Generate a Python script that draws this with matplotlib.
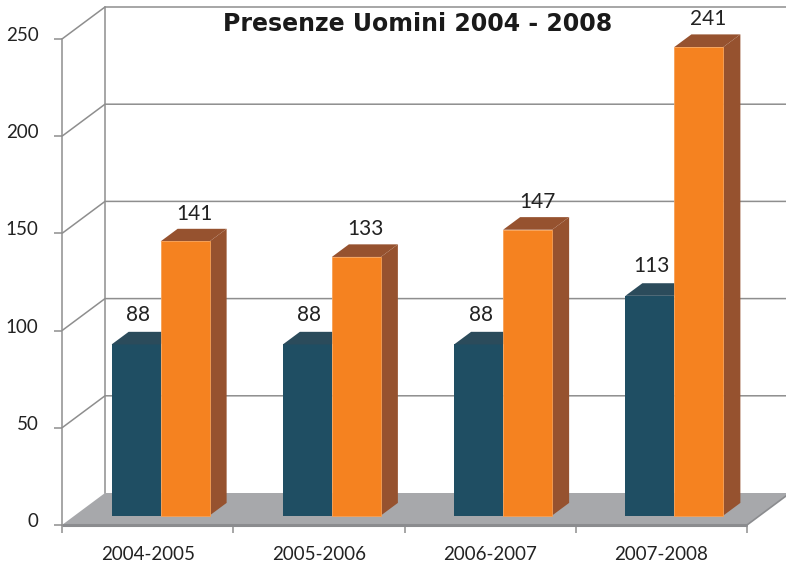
import matplotlib
matplotlib.use("Agg")
import matplotlib.pyplot as plt
from matplotlib.patches import Polygon
from matplotlib.transforms import ScaledTranslation

categories = ["2004-2005", "2005-2006", "2006-2007", "2007-2008"]
series_a = [88, 88, 88, 113]      # dark blue
series_b = [141, 133, 147, 241]   # orange
yticks = [0, 50, 100, 150, 200, 250]
title = "Presenze Uomini 2004 - 2008"

C_DARK = "#1f4e63"
C_DARK_TOP = "#2b4b5b"
C_ORANGE = "#f58220"
C_BROWN = "#96522f"
C_FLOOR = "#a7a8ab"
C_FLOOR_EDGE = "#8b8c8f"
C_GRID = "#8e8e8e"

FONT = ["Lato", "DejaVu Sans"]
plt.rcParams["font.family"] = FONT

W, H, DPI = 786, 563, 100
fig = plt.figure(figsize=(W / DPI, H / DPI), dpi=DPI)
x0, y0, x1, y1 = 62, 525, 747, 39
ax = fig.add_axes([x0 / W, (H - y0) / H, (x1 - x0) / W, (y0 - y1) / H])
ax.set_xlim(0, 4)
ax.set_ylim(0, 250)
ax.set_facecolor("none")

pxx = (x1 - x0) / 4.0
pxy = (y0 - y1) / 250.0
DX, DY = 43 / pxx, 32 / pxy          # wall depth
BX, BY = 13 / pxx, 9.5 / pxy          # bar front offset
BDX, BDY = 17 / pxx, 12.6 / pxy       # bar depth
BW = 49 / pxx                          # bar width

# back wall gridlines and edges
for t in yticks:
    if t == 0:
        continue
    ax.plot([0, DX, 4 + DX + 1], [t, t + DY, t + DY], color=C_GRID, lw=1.1,
            clip_on=False, zorder=1, solid_capstyle="butt")
ax.plot([DX, DX], [DY, 250 + DY], color=C_GRID, lw=1.1, clip_on=False, zorder=1)

# floor
floor = Polygon([(0, 0), (4, 0), (4 + DX, DY), (DX, DY)], closed=True,
                facecolor=C_FLOOR, edgecolor="none", clip_on=False, zorder=2)
ax.add_patch(floor)
ax.plot([0, 4], [0, 0], color=C_FLOOR_EDGE, lw=2.2, clip_on=False, zorder=3,
        solid_capstyle="butt")
ax.plot([4, 4 + DX], [0, DY], color=C_FLOOR_EDGE, lw=1.2, clip_on=False, zorder=3)

# bars
xs = [i + 0.5 for i in range(len(categories))]
xa = [c + BX - BW for c in xs]
xb = [c + BX for c in xs]
ax.bar(xa, series_a, width=BW, bottom=BY, align="edge", color=C_DARK,
       edgecolor="none", zorder=4, clip_on=False)
for x, v in zip(xa, series_a):
    top = Polygon([(x, BY + v), (x + BW, BY + v), (x + BW + BDX, BY + v + BDY),
                   (x + BDX, BY + v + BDY)], closed=True, facecolor=C_DARK_TOP,
                  edgecolor="none", zorder=4, clip_on=False)
    ax.add_patch(top)
for x, v in zip(xb, series_b):
    side = Polygon([(x + BW, BY), (x + BW, BY + v), (x + BW + BDX, BY + v + BDY),
                    (x + BW + BDX, BY + BDY)], closed=True, facecolor=C_BROWN,
                   edgecolor="none", zorder=5, clip_on=False)
    top = Polygon([(x, BY + v), (x + BW, BY + v), (x + BW + BDX, BY + v + BDY),
                   (x + BDX, BY + v + BDY)], closed=True, facecolor=C_BROWN,
                  edgecolor="none", zorder=5, clip_on=False)
    ax.add_patch(side)
    ax.add_patch(top)
ax.bar(xb, series_b, width=BW, bottom=BY, align="edge", color=C_ORANGE,
       edgecolor="#f7a055", linewidth=0.6, zorder=6, clip_on=False)

# value labels
for x, v in zip(xa, series_a):
    ax.text(x + BW / 2 + 2 / pxx, v + 17, str(v), ha="center", va="baseline",
            fontsize=15, color="#222222", zorder=7, clip_on=False)
for x, v in zip(xb, series_b):
    ax.text(x + BW / 2 + BDX / 2 + 1 / pxx, v + 16, str(v), ha="center",
            va="baseline", fontsize=15, color="#222222", zorder=7, clip_on=False)

# axes styling
for s in ["top", "right"]:
    ax.spines[s].set_visible(False)
ax.spines["bottom"].set_visible(False)
ax.spines["left"].set_color(C_GRID)
ax.spines["left"].set_linewidth(1.1)
ax.spines["left"].set_zorder(3)

ax.set_yticks(yticks)
ax.set_yticklabels([str(t) for t in yticks], fontsize=13.5, color="#222222")
ax.tick_params(axis="y", direction="out", length=6, width=1.1, color=C_GRID, pad=11)
for lab in ax.get_yticklabels():
    lab.set_transform(lab.get_transform() + ScaledTranslation(0, 5 / DPI, fig.dpi_scale_trans))

ax.set_xticks(range(len(categories) + 1))
ax.set_xticklabels([""] * (len(categories) + 1))
ax.tick_params(axis="x", which="major", direction="out", length=6, width=1.1,
               color=C_GRID)
ax.set_xticks(xs, minor=True)
ax.set_xticklabels(categories, minor=True, fontsize=13.5, color="#222222")
ax.tick_params(axis="x", which="minor", length=0, pad=15)

fig.text(418 / W, 1 - 24 / H, title, ha="center", va="center", fontsize=17,
         fontweight="bold", family=["DejaVu Sans"], color="#1a1a1a")

fig.savefig("out.png", dpi=DPI)
